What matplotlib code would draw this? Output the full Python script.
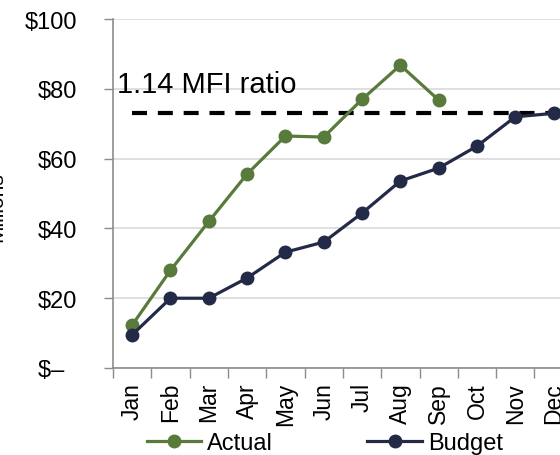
import numpy as np
import matplotlib
matplotlib.use('Agg')
import matplotlib.pyplot as plt

# values (millions of dollars)
months = ['Jan', 'Feb', 'Mar', 'Apr', 'May', 'Jun', 'Jul', 'Aug', 'Sep', 'Oct', 'Nov', 'Dec']
actual = [12.3, 28.0, 42.0, 55.6, 66.5, 66.2, 77.0, 86.8, 76.8]
budget = [9.5, 20.0, 20.0, 25.8, 33.2, 36.1, 44.4, 53.6, 57.3, 63.6, 72.0, 73.0]
mfi_level = [73.1] * 12
y_ticks = [0, 20, 40, 60, 80, 100]
y_labels = ['$\u2013  ', '$20', '$40', '$60', '$80', '$100']

green = '#587a3a'
navy = '#232a48'

plt.rcParams['font.family'] = ['Liberation Sans', 'DejaVu Sans']

fig = plt.figure(figsize=(5.6, 4.56), dpi=100)
# plot area runs past the right edge, as in the cropped original
ax = fig.add_axes([0.2018, 0.1908, 0.821, 0.765])

x = np.arange(len(months))

ax.plot(x, mfi_level, color='black', lw=3, dashes=(3.6, 2.6), zorder=2)
ax.plot(x[:len(actual)], actual, color=green, lw=2.3, marker='o', ms=9, label='Actual', zorder=3)
ax.plot(x, budget, color=navy, lw=2.3, marker='o', ms=9, label='Budget', zorder=3)

ax.text(-0.40, 79, '1.14 MFI ratio', fontsize=21, va='baseline', ha='left', color='black')

ax.set_xlim(-0.5, 11.5)
ax.set_ylim(0, 100)

# y axis
ax.set_yticks(y_ticks)
ax.set_yticklabels(y_labels, fontsize=17)
ax.tick_params(axis='y', direction='out', length=6.5, width=1, color='#8c8c8c', pad=19)
ax.yaxis.grid(True, color='#d9d9d9', lw=1.2)
ax.set_axisbelow(True)

# x axis: ticks between categories, labels at categories
ax.set_xticks(np.arange(-0.5, 12, 1))
ax.set_xticklabels([])
ax.set_xticks(x, minor=True)
ax.set_xticklabels(months, minor=True, rotation=90, fontsize=16.5)
ax.tick_params(axis='x', which='major', direction='out', length=7, width=1, color='#8c8c8c')
ax.tick_params(axis='x', which='minor', length=0, pad=10)

for side in ['top', 'right']:
    ax.spines[side].set_visible(False)
for side in ['left', 'bottom']:
    ax.spines[side].set_color('#8c8c8c')
    ax.spines[side].set_linewidth(1.2)

fig.text(-0.006, 1 - 207 / 456, 'Millions', rotation=90, fontsize=15, ha='center', va='center')

fig.legend(loc='center', bbox_to_anchor=(0.58, 0.026), ncol=2, frameon=False, fontsize=17,
           handlelength=2.3, handletextpad=0.25, columnspacing=4.0, borderpad=0)

fig.savefig('out.png', dpi=100)
